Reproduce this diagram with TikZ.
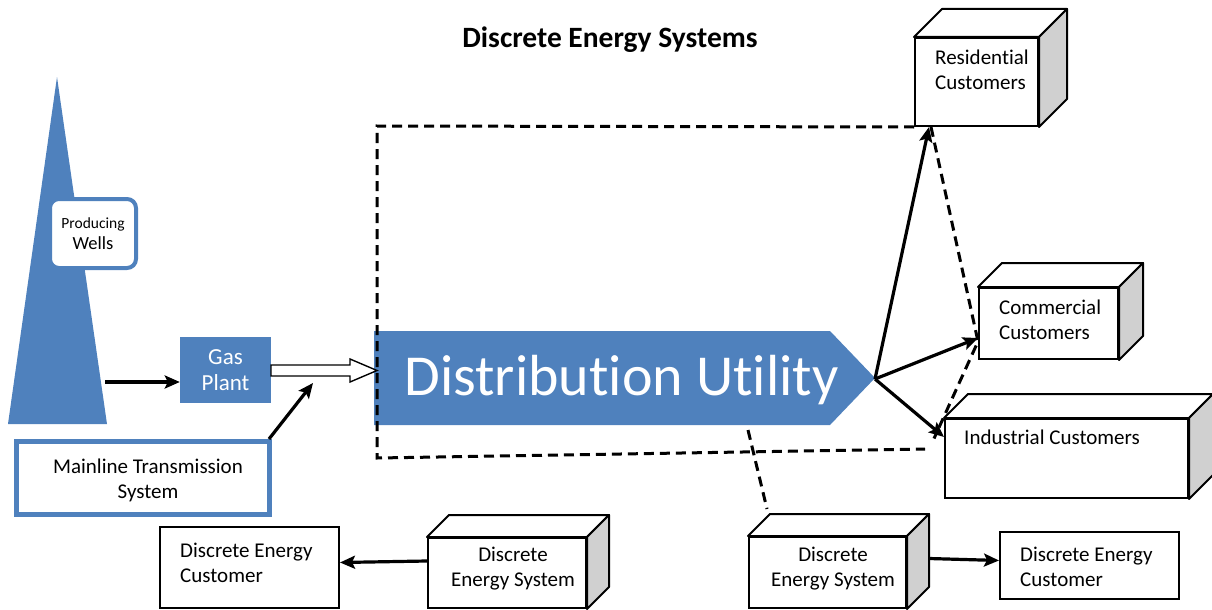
\documentclass[tikz,border=0pt]{standalone}
\usepackage{fontspec}
\setmainfont{Carlito}[Ligatures=NoCommon]
\usetikzlibrary{arrows.meta,calc}
\definecolor{ublue}{HTML}{4F81BD}
\definecolor{sidegray}{HTML}{D0D0D0}
\newcommand\cubefaces[2]{%
  \draw[line width=2pt,fill=white,line join=round] (#1.north west) -- ++(#2,-#2) -- ($(#1.north east)+(#2,-#2)$) -- (#1.north east) -- cycle;
  \draw[line width=2pt,fill=sidegray,line join=round] (#1.north east) -- ($(#1.north east)+(#2,-#2)$) -- ($(#1.south east)+(#2,-#2)$) -- (#1.south east) -- cycle;}
\begin{document}
\begin{tikzpicture}[x=1pt,y=-1pt,
  box/.style={draw=black,line width=2pt,fill=white,inner sep=0pt},
  arr/.style={line width=3.2pt,-{Stealth[length=15pt,width=13pt,inset=3pt]}},
  dsh/.style={line width=3pt,dash pattern=on 10pt off 6pt},
  txt/.style={font=\fontsize{21}{25}\selectfont,inner sep=0pt}
]
\useasboundingbox (0,0) rectangle (1212,610);

% title
\node[font=\fontsize{29.5}{32}\selectfont\bfseries,inner sep=0pt] (title) at (610,40) {Discrete Energy Systems};

% producing wells triangle
\fill[ublue] (8,424) -- (57,77) -- (107,424) -- cycle;
\coordinate (wellbase) at (105,382);
\node[draw=ublue,line width=4pt,rounded corners=9pt,fill=white,minimum width=86pt,minimum height=69pt,align=center,inner sep=0pt,font=\fontsize{18.5}{21}\selectfont] (wells) at (93,233.5)
  {{\fontsize{15.5}{21}\selectfont Producing}\\Wells};

% gas plant
\node[fill=ublue,minimum width=91pt,minimum height=66pt,text=white,align=center,inner sep=0pt,font=\fontsize{23}{26}\selectfont] (gas) at (225.5,370) {Gas\\Plant};

% mainline
\node[draw=ublue,line width=5pt,fill=white,minimum width=253pt,minimum height=73pt,inner sep=0pt] (main) at (143,478) {};
\node[txt,align=center] (maintxt) at (148,480) {Mainline Transmission\\System};
\coordinate (mtarget) at (313,383);

% distribution utility
\fill[ublue] (374,331) -- (830,331) -- (875,378) -- (830,425) -- (374,425) -- cycle;
\node[anchor=base,text=white,inner sep=0pt,font=\fontsize{58}{60}\selectfont] (util) at (621.5,395) {Distribution Utility};
\coordinate (utip) at (875,379);
\coordinate (ubot) at (748,430);

% dashed frame
\coordinate (dtl) at (377,126);
\coordinate (dbl) at (377,458);
\coordinate (dbr) at (925,449);

% cubes
\node[box,minimum width=123pt,minimum height=88pt] (res) at (976.5,82) {};
\cubefaces{res}{28}
\node[txt,align=left,anchor=west] (restxt) at (935,70) {Residential\\Customers};

\node[box,minimum width=139pt,minimum height=71pt] (com) at (1048.5,323.5) {};
\cubefaces{com}{24}
\node[txt,align=left,anchor=west] (comtxt) at (999,320) {Commercial\\Customers};

\node[box,minimum width=243pt,minimum height=79pt] (ind) at (1066.5,458.5) {};
\cubefaces{ind}{24}
\node[txt,anchor=west] (indtxt) at (964,437) {Industrial Customers};

\node[box,minimum width=158pt,minimum height=70pt] (desl) at (507,573) {};
\cubefaces{desl}{22}
\node[txt,align=center] (desltxt) at (513,569) {Discrete\\Energy System};

\node[box,minimum width=157pt,minimum height=71pt] (desr) at (827.5,572.5) {};
\cubefaces{desr}{22}
\node[txt,align=center] (desrtxt) at (833,569) {Discrete\\Energy System};

\node[box,minimum width=179pt,minimum height=81pt] (custl) at (249.5,567.5) {};
\node[txt,align=left,anchor=west] (custltxt) at (180,563) {Discrete Energy\\Customer};

\node[box,minimum width=179pt,minimum height=67pt] (custr) at (1089.5,565.5) {};
\node[txt,align=left,anchor=west] (custrtxt) at (1020,567) {Discrete Energy\\Customer};

% dashed lines
\draw[dsh] ([xshift=0pt]res.south west) -- (dtl) -- (dbl) -- (dbr);
\draw[dsh] ([xshift=17pt]res.south west) -- ([yshift=-18pt]com.west) -- ([shift={(-10pt,20pt)}]ind.west);
\draw[dsh] (ubot) -- ([shift={(19pt,27pt)}]desr.north west);

% arrows
\draw[arr] (wellbase) -- ([yshift=-12pt]gas.west);
\draw[line width=1.4pt,fill=white,line join=miter] (271,365) -- (350,365) -- (350,359) -- (377,370.5) -- (350,382) -- (350,376) -- (271,376) -- cycle;
\draw[arr] ([xshift=-3pt]main.north east) -- (mtarget);
\draw[arr] (utip) -- ([xshift=15pt]res.south west);
\draw[arr] (utip) -- ([yshift=-14.5pt]com.west);
\draw[arr] (utip) -- ([yshift=21.5pt]ind.west);
\draw[arr] ([yshift=12pt]desl.west) -- ([yshift=5pt]custl.east);
\draw[arr] ([shift={(22pt,14pt)}]desr.east) -- ([yshift=5pt]custr.west);
\end{tikzpicture}
\end{document}
